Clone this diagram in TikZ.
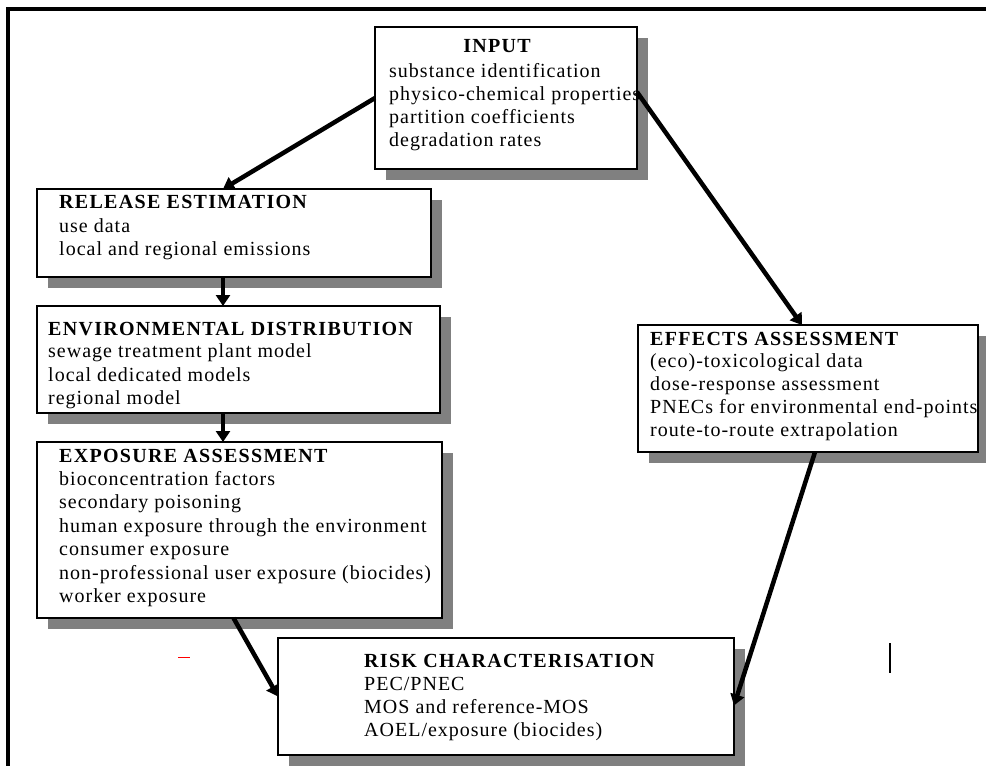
\documentclass[tikz,border=0pt]{standalone}
\usepackage{fontspec}
\setmainfont{Liberation Serif}[LetterSpace=5]
\usetikzlibrary{arrows.meta,shadows}
\definecolor{shadowgray}{RGB}{128,128,128}
\begin{document}
\begin{tikzpicture}[x=1pt,y=-1pt,
  frameline/.style={line width=4pt},
  boxnode/.style={draw=black, line width=1.3pt, fill=white, rectangle, inner sep=0pt, outer sep=0pt, anchor=north west,
    drop shadow={shadow xshift=11pt, shadow yshift=-11pt, opacity=1, fill=shadowgray}},
  titletext/.style={font=\fontsize{20}{23}\selectfont\bfseries\addfontfeature{LetterSpace=6.5}, anchor=base west, inner sep=0pt},
  itemtext/.style={font=\fontsize{20}{23}\selectfont, anchor=base west, inner sep=0pt},
  flow/.style={line width=4.5pt, -{Triangle[length=11pt,width=14pt]}}
]
\useasboundingbox (0,0) rectangle (986,766);
% frame
\draw[frameline] (986,9) -- (8,9) -- (8,766);

% boxes
\node[boxnode, minimum width=262pt, minimum height=142pt] (inp) at (375,27) {};
\node[boxnode, minimum width=394pt, minimum height=88pt] (rel) at (37,189) {};
\node[boxnode, minimum width=403pt, minimum height=107pt] (env) at (37,306) {};
\node[boxnode, minimum width=405pt, minimum height=176pt] (exp) at (37,442) {};
\node[boxnode, minimum width=340pt, minimum height=127pt] (eff) at (638,325) {};
\node[boxnode, minimum width=456pt, minimum height=117pt] (risk) at (278,638) {};

% INPUT
\node[titletext, anchor=base] (inpT) at (497,52) {INPUT};
\foreach \t [count=\i] in {substance identification, physico-chemical properties, partition coefficients, degradation rates}
  \node[itemtext] (inp\i) at (389,54+23*\i) {\t};

% RELEASE
\node[titletext] (relT) at (59,208) {RELEASE ESTIMATION};
\foreach \t [count=\i] in {use data, local and regional emissions}
  \node[itemtext] (rel\i) at (59,208.5+23.5*\i) {\t};

% ENV
\node[titletext] (envT) at (48,335) {ENVIRONMENTAL DISTRIBUTION};
\foreach \t [count=\i] in {sewage treatment plant model, local dedicated models, regional model}
  \node[itemtext] (env\i) at (48,334+23.5*\i) {\t};

% EXPOSURE
\node[titletext] (expT) at (59,462) {EXPOSURE ASSESSMENT};
\foreach \t [count=\i] in {bioconcentration factors, secondary poisoning, human exposure through the environment, consumer exposure, non-professional user exposure (biocides), worker exposure}
  \node[itemtext] (exp\i) at (59,462+23.4*\i) {\t};

% EFFECTS
\node[titletext] (effT) at (650,345) {EFFECTS ASSESSMENT};
\foreach \t [count=\i] in {(eco)-toxicological data, dose-response assessment, PNECs for environmental end-points, route-to-route extrapolation}
  \node[itemtext] (eff\i) at (650,344+23.2*\i) {\t};

% RISK
\node[titletext] (riskT) at (364,667) {RISK CHARACTERISATION};
\foreach \t [count=\i] in {PEC/PNEC, MOS and reference-MOS, AOEL/exposure (biocides)}
  \node[itemtext] (risk\i) at (364,667+23.3*\i) {\t};

% connectors
\draw[flow] (inp.west) -- ([xshift=-11pt]rel.north);
\draw[flow] ([xshift=-11pt]rel.south) -- ([xshift=-11pt]rel.south |- env.north);
\draw[flow] ([xshift=-15.5pt]env.south) -- ([xshift=-15.5pt]env.south |- exp.north);
\draw[flow] ([yshift=6pt]inp.east) -- ([xshift=-6pt]eff.north);
\draw[flow] ([xshift=-6pt]exp.south) -- (risk.west);
\draw[flow] ([xshift=7pt]eff.south) -- ([yshift=-9pt]risk.east);

% stray marks
\draw[red, line width=1pt] (178,657) -- (190,657);
\draw[black, line width=2pt] (890,643) -- (890,673);
\end{tikzpicture}
\end{document}
